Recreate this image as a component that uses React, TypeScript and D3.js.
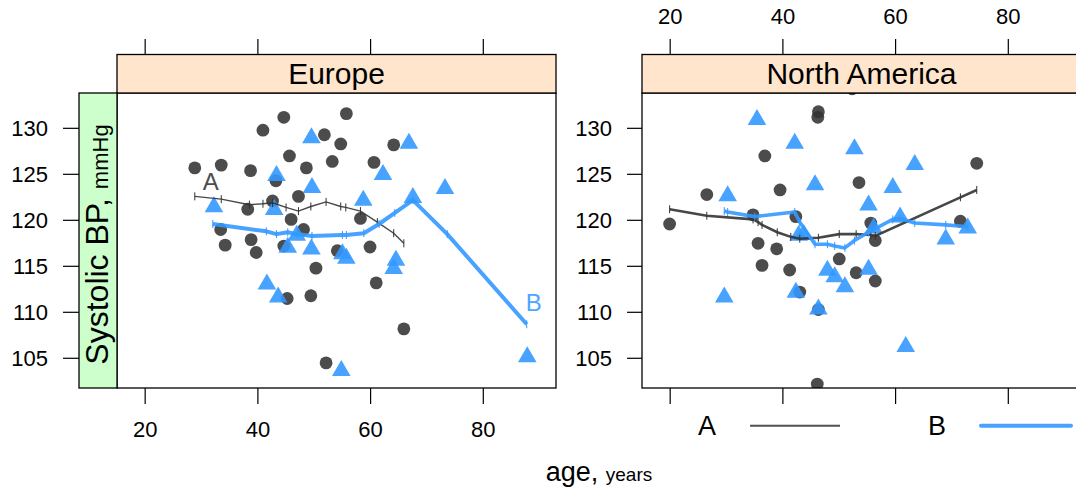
import React from 'react';
import * as d3 from 'd3';

// ---- data ----
const regions = ['Europe', 'North America'];
const xTickValues = [20, 40, 60, 80];
const yTickValues = [105, 110, 115, 120, 125, 130];
const groups = ['A', 'B'];

// Europe, group A (circles)
const euAAge = [28.8, 33.5, 38.7, 40.9, 44.6, 55.7, 51.8, 54.7, 64.1, 45.6, 48.6, 53.2, 60.6, 43.2, 47.2, 42.6, 38.2, 45.9, 48.1, 58.2, 33.4, 38.8, 34.2, 39.7, 44.6, 54.1, 59.9, 50.3, 61.0, 45.2, 49.4, 65.9, 52.1];
const euABp = [125.7, 126.0, 125.4, 129.8, 131.2, 131.6, 129.3, 128.3, 128.2, 127.0, 125.7, 126.4, 126.3, 124.3, 122.6, 122.1, 121.2, 120.1, 119.0, 120.2, 119.0, 117.9, 117.3, 116.5, 117.2, 116.7, 117.1, 114.8, 113.2, 111.5, 111.8, 108.2, 104.5];
// Europe, group B (triangles)
const euBAge = [49.5, 66.8, 43.3, 62.2, 49.6, 73.2, 42.9, 32.2, 58.7, 67.5, 46.9, 45.3, 49.5, 55.0, 55.7, 64.5, 64.1, 41.6, 43.6, 54.8, 87.8];
const euBBp = [129.1, 128.5, 125.0, 125.1, 123.7, 123.6, 121.3, 121.6, 122.3, 122.6, 118.5, 117.2, 117.0, 116.5, 116.0, 115.8, 114.9, 113.2, 111.8, 103.8, 105.3];
// Europe smooth curves
const euFitAAge = [28.8, 33.5, 38.5, 40.9, 42.6, 45.0, 47.2, 49.4, 52.1, 54.7, 55.6, 58.2, 61.2, 64.1, 65.9];
const euFitABp = [122.6, 122.3, 121.7, 121.8, 121.9, 121.4, 121.0, 121.5, 122.0, 121.5, 121.4, 121.0, 119.8, 118.6, 117.5];
const euFitBAge = [32.0, 41.5, 43.3, 45.3, 46.9, 49.6, 55.0, 55.7, 58.8, 61.5, 64.3, 67.5, 73.6, 87.7];
const euFitBBp = [119.6, 118.8, 118.5, 118.7, 118.5, 118.3, 118.4, 118.4, 118.6, 119.6, 120.8, 122.2, 118.5, 108.7];

// North America, group A
const naAAge = [19.9, 26.5, 36.8, 39.5, 34.7, 42.3, 35.6, 38.9, 36.3, 41.2, 43.0, 46.3, 46.2, 46.3, 46.1, 53.5, 50.0, 53.0, 55.6, 56.4, 56.4, 71.5, 74.4, 52.3];
const naABp = [119.6, 122.8, 127.0, 123.3, 120.6, 120.4, 117.5, 116.9, 115.1, 114.6, 112.2, 131.8, 131.2, 110.3, 102.2, 124.1, 115.8, 114.3, 119.7, 117.8, 113.4, 119.9, 126.2, 134.3];
// North America, group B
const naBAge = [35.4, 42.1, 52.7, 63.4, 45.7, 59.5, 30.2, 55.2, 60.8, 56.1, 42.8, 43.7, 72.8, 68.9, 47.9, 49.2, 51.0, 55.2, 42.3, 46.3, 29.6, 61.8];
const naBBp = [131.1, 128.5, 127.9, 126.2, 124.0, 123.7, 122.8, 121.8, 120.5, 119.3, 118.5, 118.6, 119.3, 118.1, 114.7, 114.0, 112.9, 114.8, 112.3, 110.5, 111.8, 106.4];
// North America smooth curves
const naFitAAge = [19.9, 26.5, 34.7, 35.6, 36.3, 39.0, 41.4, 43.0, 46.3, 50.0, 53.0, 55.6, 56.4, 71.5, 74.4];
const naFitABp = [121.2, 120.5, 120.1, 119.8, 119.5, 118.7, 118.2, 118.0, 118.1, 118.5, 118.5, 118.4, 118.3, 122.5, 123.3];
const naFitBAge = [29.6, 30.2, 35.0, 42.1, 43.0, 45.7, 47.9, 49.2, 51.0, 52.7, 55.2, 56.1, 59.5, 60.8, 63.4, 68.9, 72.8];
const naFitBBp = [121.0, 120.9, 120.4, 120.9, 119.8, 117.4, 117.4, 117.2, 117.0, 117.8, 118.7, 119.0, 120.1, 120.2, 119.7, 119.5, 119.3];

const FONT = '"Liberation Sans", Arial, Helvetica, sans-serif';
const colA = '#333333';
const colB = '#3399ff';

const zip = (a: number[], b: number[]) => a.map((v, i) => [v, b[i]] as [number, number]);

const panelsData = [
  {
    name: regions[0],
    a: zip(euAAge, euABp), b: zip(euBAge, euBBp),
    fitA: zip(euFitAAge, euFitABp), fitB: zip(euFitBAge, euFitBBp),
    x0: 117, lineAW: 1.4, lineBW: 4, labels: true,
  },
  {
    name: regions[1],
    a: zip(naAAge, naABp), b: zip(naBAge, naBBp),
    fitA: zip(naFitAAge, naFitABp), fitB: zip(naFitBAge, naFitBBp),
    x0: 642, lineAW: 2.6, lineBW: 3.6, labels: false,
  },
];

const panelW = 439;
const top = 93;
const bottom = 388;
const stripTop = 54.5;

const y = d3.scaleLinear().domain([101.77, 133.84]).range([bottom, top]);

function Panel({ p, idx }: { p: any; idx: number }) {
  const x = d3.scaleLinear().domain([15, 92.9]).range([p.x0, p.x0 + panelW]);
  const line = d3.line<[number, number]>().x(d => x(d[0])).y(d => y(d[1]));
  const tri = (cx: number, cy: number) => {
    const w = 9.3, hTop = 9.3, hBot = 6.7;
    return `M${cx},${cy - hTop}L${cx + w},${cy + hBot}L${cx - w},${cy + hBot}Z`;
  };
  const clipId = `clip-${idx}`;
  const yLabelX = idx === 0 ? 48 : 612;
  const yTickX0 = idx === 0 ? 63 : 627;
  const yTickX1 = idx === 0 ? 79 : p.x0;
  return (
    <g>
      <defs>
        <clipPath id={clipId}>
          <rect x={p.x0} y={top} width={panelW} height={bottom - top} />
        </clipPath>
      </defs>
      {/* top ticks */}
      {xTickValues.map(t => (
        <line key={'tt' + t} x1={x(t)} x2={x(t)} y1={39} y2={stripTop} stroke="#000" strokeWidth={1.2} />
      ))}
      {idx === 1 && xTickValues.map(t => (
        <text key={'tl' + t} x={x(t)} y={24} textAnchor="middle" fontSize={22} fontFamily={FONT}>{t}</text>
      ))}
      {/* bottom ticks */}
      {xTickValues.map(t => (
        <line key={'bt' + t} x1={x(t)} x2={x(t)} y1={bottom} y2={404} stroke="#000" strokeWidth={1.2} />
      ))}
      {idx === 0 && xTickValues.map(t => (
        <text key={'bl' + t} x={x(t)} y={437} textAnchor="middle" fontSize={22} fontFamily={FONT}>{t}</text>
      ))}
      {/* y ticks */}
      {yTickValues.map(t => (
        <g key={'y' + t}>
          <line x1={yTickX0} x2={yTickX1} y1={y(t)} y2={y(t)} stroke="#000" strokeWidth={1.2} />
          <text x={yLabelX} y={y(t)} dy="0.36em" textAnchor="end" fontSize={22} fontFamily={FONT}>{t}</text>
        </g>
      ))}
      <g clipPath={`url(#${clipId})`}>
        {p.a.map((d: [number, number], i: number) => (
          <circle key={'a' + i} cx={x(d[0])} cy={y(d[1])} r={6.4} fill={colA} fillOpacity={0.88} />
        ))}
        {p.b.map((d: [number, number], i: number) => (
          <path key={'b' + i} d={tri(x(d[0]), y(d[1]))} fill={colB} fillOpacity={0.9} />
        ))}
        <path d={line(p.fitA) || ''} fill="none" stroke={colA} strokeOpacity={0.9} strokeWidth={p.lineAW} />
        {p.fitA.map((d: [number, number], i: number) => (
          <line key={'fa' + i} x1={x(d[0])} x2={x(d[0])} y1={y(d[1]) - 4} y2={y(d[1]) + 4} stroke={colA} strokeWidth={1} />
        ))}
        <path d={line(p.fitB) || ''} fill="none" stroke={colB} strokeOpacity={0.9} strokeWidth={p.lineBW} strokeLinejoin="round" />
        {p.fitB.map((d: [number, number], i: number) => (
          <line key={'fb' + i} x1={x(d[0])} x2={x(d[0])} y1={y(d[1]) - 4} y2={y(d[1]) + 4} stroke={colB} strokeWidth={1} />
        ))}
        {p.labels && (
          <g fontFamily={FONT} fontSize={24} textAnchor="middle">
            <text x={x(p.fitA[0][0]) + 16} y={y(p.fitA[0][1]) - 6} fill="#4d4d4d">{groups[0]}</text>
            <text x={x(p.fitB[p.fitB.length - 1][0]) + 7} y={y(p.fitB[p.fitB.length - 1][1]) - 13} fill="#4da6ff">{groups[1]}</text>
          </g>
        )}
      </g>
      <rect x={p.x0} y={top} width={panelW} height={bottom - top} fill="none" stroke="#000" strokeWidth={1.3} />
      {/* strip */}
      <rect x={p.x0} y={stripTop} width={panelW} height={top - stripTop} fill="#ffe5cc" stroke="#000" strokeWidth={1.3} />
      <text x={p.x0 + panelW / 2} y={top - 9} textAnchor="middle" fontSize={30} fontFamily={FONT}>{p.name}</text>
    </g>
  );
}

export default function App() {
  const W = 1076, H = 493;
  const ylabCx = 97, ylabCy = (top + bottom) / 2 + 4;
  return (
    <svg width={W} height={H} style={{ position: 'absolute', left: 0, top: 0, background: '#fff' }}>
      <rect width={W} height={H} fill="#fff" />
      {panelsData.map((p, i) => <Panel key={p.name} p={p} idx={i} />)}
      {/* y strip */}
      <rect x={79} y={top} width={38} height={bottom - top} fill="#ccffcc" stroke="#000" strokeWidth={1.3} />
      <text transform={`translate(${ylabCx + 11},${ylabCy}) rotate(-90)`} textAnchor="middle" fontFamily={FONT}>
        <tspan fontSize={32}>Systolic BP, </tspan>
        <tspan fontSize={22}>mmHg</tspan>
      </text>
      {/* legend */}
      <g fontFamily={FONT} fontSize={27}>
        <text x={707} y={435} textAnchor="middle">{groups[0]}</text>
        <line x1={750} x2={840} y1={425.7} y2={425.7} stroke={colA} strokeOpacity={0.85} strokeWidth={2} />
        <text x={937} y={435} textAnchor="middle">{groups[1]}</text>
        <line x1={981} x2={1071} y1={425.7} y2={425.7} stroke={colB} strokeOpacity={0.9} strokeWidth={4} strokeLinecap="round" />
      </g>
      {/* x label */}
      <text x={599} y={481} textAnchor="middle" fontFamily={FONT}>
        <tspan fontSize={27}>age, </tspan>
        <tspan fontSize={19}>years</tspan>
      </text>
    </svg>
  );
}
